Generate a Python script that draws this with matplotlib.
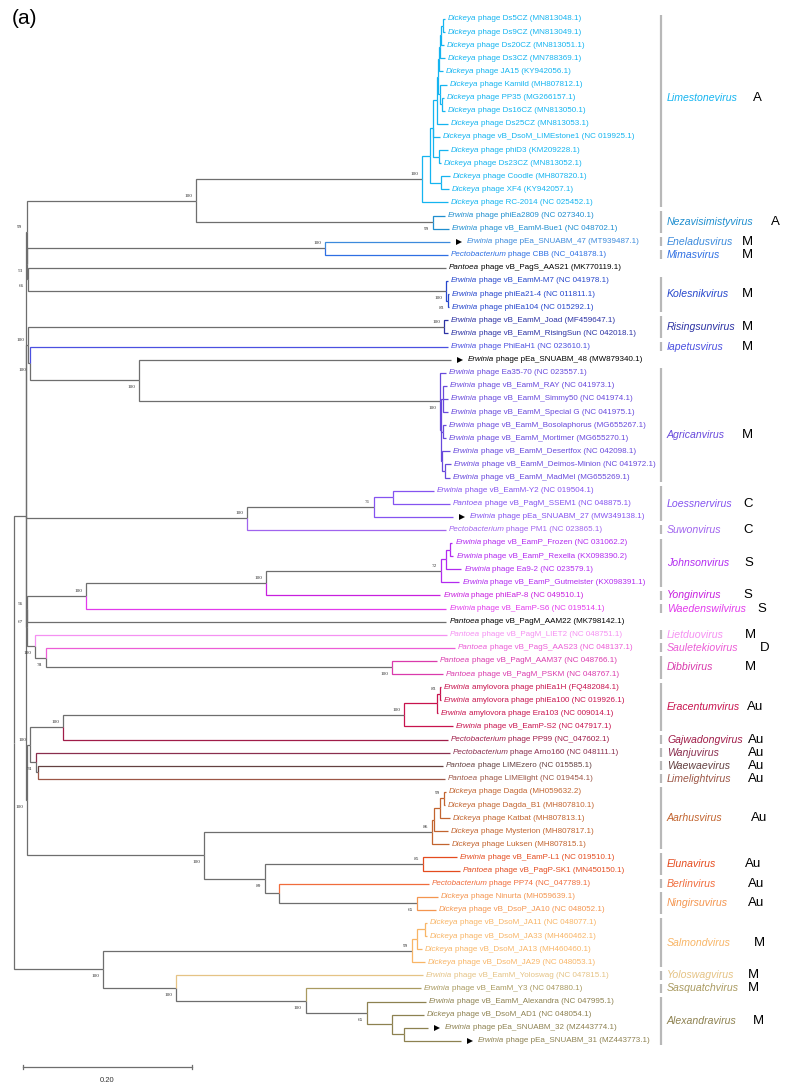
import re
import matplotlib
matplotlib.use("Agg")
import matplotlib.pyplot as plt

# ----------------------------------------------------------------- data
# Tree (Newick, branch lengths in substitutions/site, bootstrap as node label);
# leaves are numbered in display order and described in the lists below.
newick_limestone = ("(((((((((0:0.0024,1:0.0024):0.0024,2:0.0036):0.0012,3:0.0059):0.0012,4:0.0047):0.0012,"
                    "(5:0.0083,(6:0.0024,7:0.0036):0.0024):0.0024):0.0012,8:0.0130):0.0047,9:0.0083,"
                    "(10:0.0107,11:0.0024):0.0071):0.0036,(12:0.0107,13:0.0095):0.0130):0.0095,14:0.0308)100:0.2675")
newick_nezav = "(15:0.0142,16:0.0189)99:0.2805"
newick_d = ("((17:0.1479,18:0.1456)100:0.3527,(19:0.4947,(20:0.0024,(21:0.0012,22:0.0012)83:0.0024)100:0.4947)66:0.0012)53:0.0006")
newick_g = ("((23:0.0047,24:0.0047)100:0.4923,(25:0.4947,(26:0.3692,(27:0.0071,((28:0.0047,29:0.0059,30:0.0059):0.0024,"
            "(31:0.0036,32:0.0036):0.0024,(33:0.0095,(34:0.0071,35:0.0059):0.0036):0.0012):0.0012)100:0.3562)100:0.1290)100:0.0024)100:0.0024")
newick_ls = "(((36:0.0485,37:0.0675):0.0225,38:0.0935)71:0.1503,39:0.2355)100:0.2615"
newick_l = ("(((((((40:0.0024,41:0.0036):0.0047,42:0.0178):0.0059,43:0.0213)72:0.2071,44:0.2059)100:0.2130,45:0.4260)100:0.0698,"
            "46:0.4959)56:0.0004,(47:0.4876,(48:0.4840,(49:0.0533,50:0.0604)100:0.4095)78:0.0130)100:0.0095)67:0.0012")
newick_b = ("((((((51:0.0012,52:0.0012)83:0.0036,53:0.0012):0.0391,54:0.0580)100:0.4036,55:0.4556)100:0.0391,"
            "(56:0.4899,(57:0.4793,58:0.4817):0.0024)74:0.0071)100:0.0036,"
            "(((((59:0.0024,60:0.0012)99:0.0047,61:0.0118):0.0071,62:0.0166):0.0024,63:0.0201)86:0.2698,"
            "((64:0.0402,65:0.0438)85:0.1870,(66:0.1775,(67:0.0249,68:0.0225)65:0.1633):0.0166)89:0.0722)100:0.2095)100:0.0012")
newick_bottom = ("((((69:0.0024,70:0.0024):0.0095,71:0.0059):0.0059,72:0.0154)99:0.3657,(73:0.2923,(74:0.1361,(75:0.0698,"
                 "(76:0.0379,(77:0.0284,78:0.0675):0.0142):0.0296)65:0.0722)100:0.1538)100:0.0864)100:0.1053")

leaf_host = (["Dickeya"] * 15 + ["Erwinia"] * 3 + ["Pectobacterium", "Pantoea"] + ["Erwinia"] * 17
             + ["Pantoea", "Erwinia", "Pectobacterium"] + ["Erwinia"] * 6 + ["Pantoea"] * 5
             + ["Erwinia"] * 4 + ["Pectobacterium"] * 2 + ["Pantoea"] * 2 + ["Dickeya"] * 5
             + ["Erwinia", "Pantoea", "Pectobacterium"] + ["Dickeya"] * 6 + ["Erwinia"] * 3
             + ["Dickeya", "Erwinia", "Erwinia"])
leaf_phage = [
    "phage Ds5CZ", "phage Ds9CZ", "phage Ds20CZ", "phage Ds3CZ", "phage JA15", "phage Kamild", "phage PP35",
    "phage Ds16CZ", "phage Ds25CZ", "phage vB_DsoM_LIMEstone1", "phage phiD3", "phage Ds23CZ", "phage Coodle",
    "phage XF4", "phage RC-2014", "phage phiEa2809", "phage vB_EamM-Bue1", "phage pEa_SNUABM_47", "phage CBB",
    "phage vB_PagS_AAS21", "phage vB_EamM-M7", "phage phiEa21-4", "phage phiEa104", "phage vB_EamM_Joad",
    "phage vB_EamM_RisingSun", "phage PhiEaH1", "phage pEa_SNUABM_48", "phage Ea35-70", "phage vB_EamM_RAY",
    "phage vB_EamM_Simmy50", "phage vB_EamM_Special G", "phage vB_EamM_Bosolaphorus", "phage vB_EamM_Mortimer",
    "phage vB_EamM_Desertfox", "phage vB_EamM_Deimos-Minion", "phage vB_EamM_MadMel", "phage vB_EamM-Y2",
    "phage vB_PagM_SSEM1", "phage pEa_SNUABM_27", "phage PM1", "phage vB_EamP_Frozen", "phage vB_EamP_Rexella",
    "phage Ea9-2", "phage vB_EamP_Gutmeister", "phage phiEaP-8", "phage vB_EamP-S6", "phage vB_PagM_AAM22",
    "phage vB_PagM_LIET2", "phage vB_PagS_AAS23", "phage vB_PagM_AAM37", "phage vB_PagM_PSKM",
    "amylovora phage phiEa1H", "amylovora phage phiEa100", "amylovora phage Era103", "phage vB_EamP-S2",
    "phage PP99", "phage Arno160", "phage LIMEzero", "phage LIMElight", "phage Dagda", "phage Dagda_B1",
    "phage Katbat", "phage Mysterion", "phage Luksen", "phage vB_EamP-L1", "phage vB_PagP-SK1", "phage PP74",
    "phage Ninurta", "phage vB_DsoP_JA10", "phage vB_DsoM_JA11", "phage vB_DsoM_JA33", "phage vB_DsoM_JA13",
    "phage vB_DsoM_JA29", "phage vB_EamM_Yoloswag", "phage vB_EamM_Y3", "phage vB_EamM_Alexandra",
    "phage vB_DsoM_AD1", "phage pEa_SNUABM_32", "phage pEa_SNUABM_31"]
leaf_acc = [
    "MN813048.1", "MN813049.1", "MN813051.1", "MN788369.1", "KY942056.1", "MH807812.1", "MG266157.1",
    "MN813050.1", "MN813053.1", "NC 019925.1", "KM209228.1", "MN813052.1", "MH807820.1", "KY942057.1",
    "NC 025452.1", "NC 027340.1", "NC 048702.1", "MT939487.1", "NC_041878.1", "MK770119.1", "NC 041978.1",
    "NC 011811.1", "NC 015292.1", "MF459647.1", "NC 042018.1", "NC 023610.1", "MW879340.1", "NC 023557.1",
    "NC 041973.1", "NC 041974.1", "NC 041975.1", "MG655267.1", "MG655270.1", "NC 042098.1", "NC 041972.1",
    "MG655269.1", "NC 019504.1", "NC 048875.1", "MW349138.1", "NC 023865.1", "NC 031062.2", "KX098390.2",
    "NC 023579.1", "KX098391.1", "NC 049510.1", "NC 019514.1", "MK798142.1", "NC 048751.1", "NC 048137.1",
    "NC 048766.1", "NC 048767.1", "FQ482084.1", "NC 019926.1", "NC 009014.1", "NC 047917.1", "NC_047602.1",
    "NC 048111.1", "NC 015585.1", "NC 019454.1", "MH059632.2", "MH807810.1", "MH807813.1", "MH807817.1",
    "MH807815.1", "NC 019510.1", "MN450150.1", "NC_047789.1", "MH059639.1", "NC 048052.1", "NC 048077.1",
    "MH460462.1", "MH460460.1", "NC 048053.1", "NC 047815.1", "NC 047880.1", "NC 047995.1", "NC 048054.1",
    "MZ443774.1", "MZ443773.1"]
new_isolates = [17, 26, 38, 77, 78]

clade_names = ["Limestonevirus", "Nezavisimistyvirus", "Eneladusvirus", "Mimasvirus", "Kolesnikvirus",
               "Risingsunvirus", "Iapetusvirus", "Agricanvirus", "Loessnervirus", "Suwonvirus", "Johnsonvirus",
               "Yonginvirus", "Waedenswilvirus", "Lietduovirus", "Sauletekiovirus", "Dibbivirus", "Eracentumvirus",
               "Gajwadongvirus", "Wanjuvirus", "Waewaevirus", "Limelightvirus", "Aarhusvirus", "Elunavirus",
               "Berlinvirus", "Ningirsuvirus", "Salmondvirus", "Yoloswagvirus", "Sasquatchvirus", "Alexandravirus"]
clade_letters = ["A", "A", "M", "M", "M", "M", "M", "M", "C", "C", "S", "S", "S", "M", "D", "M",
                 "Au", "Au", "Au", "Au", "Au", "Au", "Au", "Au", "Au", "M", "M", "M", "M"]
clade_first = [0, 15, 17, 18, 20, 23, 25, 27, 36, 39, 40, 44, 45, 47, 48, 49, 51, 55, 56, 57, 58, 59, 64, 66, 67, 69, 73, 74, 75]
clade_last = [14, 16, 17, 18, 22, 24, 25, 35, 38, 39, 43, 44, 45, 47, 48, 50, 54, 55, 56, 57, 58, 63, 65, 66, 68, 72, 73, 74, 78]
scale_bar_length = 0.20

# ----------------------------------------------------------------- style / layout
clade_colors = ["#14B4F0", "#1F8ECF", "#3C8ADC", "#2E6FE3", "#2546CC", "#2B31A3", "#4B50E0", "#6849DC",
                "#8553F0", "#A064EE", "#B22AF0", "#C81FDF", "#E23AEC", "#F590F2", "#EC5CD6", "#DA3AAC",
                "#C8134E", "#A01C48", "#8A2E4E", "#634040", "#9C5646", "#C2642F", "#E44B1E", "#F06C3C",
                "#F4954F", "#F8B566", "#E5C385", "#A99A60", "#8D8150"]
GRAY = "#6e6e6e"
BAR = "#b8b8b8"
letter_px = {"Limestonevirus": 753, "Nezavisimistyvirus": 771, "Waedenswilvirus": 757, "Sauletekiovirus": 760,
             "Salmondvirus": 754, "Alexandravirus": 753, "Aarhusvirus": 751, "Eracentumvirus": 747,
             "Gajwadongvirus": 748, "Wanjuvirus": 748, "Waewaevirus": 748, "Limelightvirus": 748,
             "Berlinvirus": 748, "Ningirsuvirus": 748, "Yoloswagvirus": 748, "Sasquatchvirus": 748,
             "Elunavirus": 745, "Lietduovirus": 745, "Dibbivirus": 745, "Suwonvirus": 743,
             "Loessnervirus": 743, "Johnsonvirus": 744, "Yonginvirus": 743}
name_dy_px = {"Limestonevirus": -13, "Agricanvirus": 10}

W, H = 785, 1088
PXU = 845.0      # pixels per substitution unit
ROOT_PX, TOP_PX, ROW_PX = 14, 19, 13.1
LEAF_FS = 5.8


def X(px):
    return (px - ROOT_PX) / PXU


def Y(px):
    return (px - TOP_PX) / ROW_PX


def dX(px):
    return px / PXU


def dY(px):
    return px / ROW_PX


def parse_newick(s):
    s = s.strip().rstrip(";")
    pos = 0

    def node():
        nonlocal pos
        n = {"children": [], "name": "", "length": 0.0}
        if s[pos] == "(":
            pos += 1
            while True:
                n["children"].append(node())
                if s[pos] == ",":
                    pos += 1
                    continue
                pos += 1
                break
        m = re.match(r"[^:,();]*", s[pos:])
        n["name"] = m.group(0)
        pos += len(m.group(0))
        if pos < len(s) and s[pos] == ":":
            pos += 1
            m = re.match(r"[0-9.eE+-]+", s[pos:])
            n["length"] = float(m.group(0))
            pos += len(m.group(0))
        return n
    return node()


newick_a = "(({},{})100:0.2006,{})99:0.0006".format(newick_limestone, newick_nezav, newick_d)
newick_n1 = "({},{},{},{},{}):0.0142".format(newick_a, newick_g, newick_ls, newick_l, newick_b)
tree = parse_newick("({},{});".format(newick_n1, newick_bottom))

leaf_clade = [-1] * len(leaf_phage)
for ci, (f, l) in enumerate(zip(clade_first, clade_last)):
    for i in range(f, l + 1):
        leaf_clade[i] = ci


def layout(n, x0):
    n["x"] = x0 + n["length"]
    if not n["children"]:
        n["leaf"] = int(n["name"])
        n["y"] = float(n["leaf"])
        n["leaves"] = [n["leaf"]]
    else:
        for c in n["children"]:
            layout(c, n["x"])
        n["y"] = 0.5 * (n["children"][0]["y"] + n["children"][-1]["y"])
        n["leaves"] = [lf for c in n["children"] for lf in c["leaves"]]
    cl = {leaf_clade[i] for i in n["leaves"]}
    n["clade"] = cl.pop() if len(cl) == 1 and -1 not in cl else None


tree["length"] = 0.0
layout(tree, 0.0)

fig = plt.figure(figsize=(W / 100, H / 100), dpi=100)
ax = fig.add_axes([0, 0, 1, 1])
ax.set_xlim(X(0), X(W))
ax.set_ylim(Y(H), Y(0))
ax.axis("off")

LW = 0.9
SANS = "Liberation Sans"


def branch_color(parent, child):
    if not child["children"]:
        c = leaf_clade[child["leaf"]]
        return clade_colors[c] if c >= 0 else GRAY
    if parent["clade"] is not None:
        return clade_colors[parent["clade"]]
    return GRAY


def draw(n):
    kids = n["children"]
    for k, c in enumerate(kids):
        col = branch_color(n, c)
        ax.plot([n["x"], n["x"], c["x"]], [n["y"], c["y"], c["y"]], color=col, lw=LW,
                solid_joinstyle="miter", solid_capstyle="butt", zorder=2 if col == GRAY else 3)
        if c["children"] and c["name"]:
            below = (k == len(kids) - 1)
            ax.text(c["x"] - dX(4), c["y"] + (dY(7) if below else -dY(5)), c["name"],
                    ha="right", va="center", fontsize=3.8, family="Liberation Serif", color="#333333")
        draw(c)


draw(tree)


def leaves(n):
    if not n["children"]:
        yield n
    for c in n["children"]:
        yield from leaves(c)


for lf in leaves(tree):
    i = lf["leaf"]
    c = leaf_clade[i]
    col = clade_colors[c] if c >= 0 else "black"
    x0 = lf["x"] + dX(3)
    if i in new_isolates:
        ax.plot(lf["x"] + dX(9), lf["y"], marker=">", ms=5, color="black", mew=0, zorder=4)
        x0 = lf["x"] + dX(17)
    t1 = ax.text(x0, lf["y"], leaf_host[i], fontsize=LEAF_FS, family=SANS, style="italic", color=col,
                 ha="left", va="center")
    ax.annotate("{} ({})".format(leaf_phage[i], leaf_acc[i]), xy=(1, 0.5), xycoords=t1,
                xytext=(1.1, 0), textcoords="offset points",
                fontsize=LEAF_FS, family=SANS, color=col, ha="left", va="center")

# clade bars, names and letters
for ci, name in enumerate(clade_names):
    f, l = clade_first[ci], clade_last[ci]
    ax.plot([X(661), X(661)], [f - dY(4.5), l + dY(4.5)], color=BAR, lw=1.6, solid_capstyle="butt")
    yc = 0.5 * (f + l) + dY(name_dy_px.get(name, 0))
    ax.text(X(667), yc, name, fontsize=7.6, family=SANS, style="italic", color=clade_colors[ci],
            ha="left", va="center")
    ax.text(X(letter_px.get(name, 742)), yc, clade_letters[ci], fontsize=9.5, family=SANS, color="black",
            ha="left", va="center")

# scale bar
sx0 = X(23)
sy = Y(1067)
ax.plot([sx0, sx0 + scale_bar_length], [sy, sy], color=GRAY, lw=0.9)
for xx in (sx0, sx0 + scale_bar_length):
    ax.plot([xx, xx], [sy - dY(2), sy + dY(2)], color=GRAY, lw=0.9)
ax.text(sx0 + scale_bar_length / 2, Y(1080), "{:.2f}".format(scale_bar_length), fontsize=5.5, family=SANS,
        ha="center", va="center", color="#333333")

ax.text(X(12), Y(18), "(a)", fontsize=15, family=SANS, ha="left", va="center", color="black")

fig.savefig("out.png", dpi=100)
